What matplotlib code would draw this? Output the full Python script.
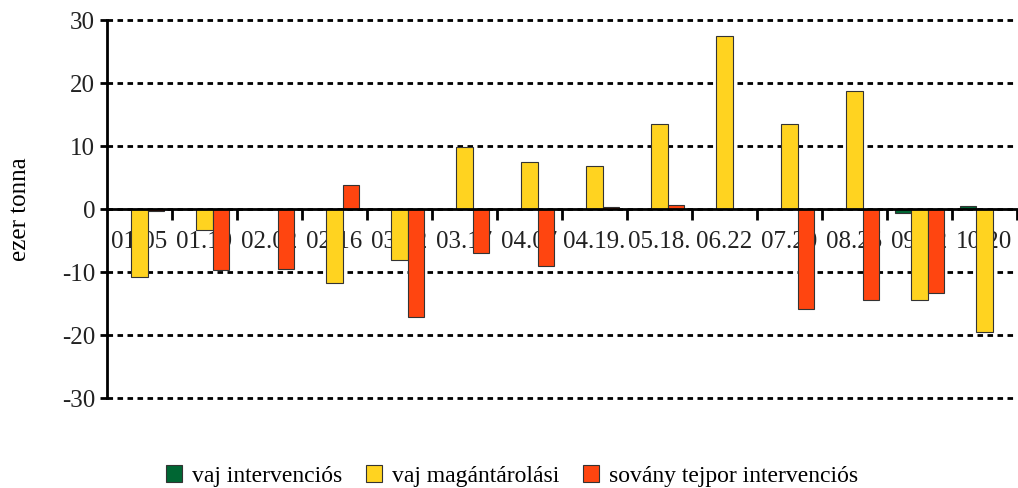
import matplotlib
import numpy as np
import matplotlib.pyplot as plt

matplotlib.use('Agg')

dates = ['01.05', '01.19', '02.02', '02.16', '03.02', '03.17', '04.07',
         '04.19.', '05.18.', '06.22', '07.20', '08.25', '09.22', '10.20']
vaj_interv = [0, 0, 0, 0, 0, 0, 0, 0, 0, 0, 0, 0, -0.6, 0.5]
vaj_magan = [-10.8, -3.3, 0, -11.7, -8.0, 9.9, 7.4, 6.9, 13.5, 27.4, 13.5, 18.8, -14.4, -19.5]
sovany_tejpor = [-0.3, -9.6, -9.5, 3.8, -17.1, -6.9, -9.0, 0.3, 0.6, 0, -15.9, -14.4, -13.3, 0]

series = [
    ('vaj intervenciós', vaj_interv, '#006633'),
    ('vaj magántárolási', vaj_magan, '#FFD320'),
    ('sovány tejpor intervenciós', sovany_tejpor, '#FF4510'),
]

plt.rcParams['font.family'] = ['Liberation Serif', 'DejaVu Serif']
plt.rcParams['axes.unicode_minus'] = False

fig = plt.figure(figsize=(10.18, 4.88), dpi=100)
ax = fig.add_axes([0.105, 0.184, 0.894, 0.775])
ax.set_axisbelow(True)

x = np.arange(len(dates))
w = 0.25
for i, (name, vals, col) in enumerate(series):
    ax.bar(x + (i - 1) * w, vals, w, color=col, edgecolor='#333333',
           linewidth=0.8, label=name, zorder=2)

ax.set_xlim(-0.5, len(dates) - 0.5)
ax.set_ylim(-30, 30)
ax.set_yticks(range(-30, 31, 10))
ax.yaxis.grid(True, color='black', linestyle=(0, (2, 1.6)), linewidth=2)
for gl in ax.get_ygridlines():
    gl.set_clip_on(False)

ax.spines['top'].set_visible(False)
ax.spines['right'].set_visible(False)
ax.spines['bottom'].set_position(('data', 0))
ax.spines['bottom'].set_linewidth(2)
ax.spines['bottom'].set_zorder(3)
ax.spines['left'].set_linewidth(2)

ax.set_xticks(x)
ax.set_xticklabels(dates, fontsize=18, color='#222222')
ax.tick_params(axis='x', which='major', length=0, pad=16)
ax.set_xticks(np.arange(0.5, len(dates), 1), minor=True)
ax.tick_params(axis='x', which='minor', length=8, width=2, direction='out')
ax.tick_params(axis='y', length=5, width=2, labelsize=18, labelcolor='#222222')

ax.set_ylabel('ezer tonna', fontsize=18, labelpad=22)

ax.legend(loc='lower center', bbox_to_anchor=(0.445, -0.29), ncol=3, frameon=False,
          fontsize=17, handlelength=0.7, handleheight=0.7, handletextpad=0.4,
          columnspacing=1.0)

plt.savefig('out.png', dpi=100)
plt.close()
